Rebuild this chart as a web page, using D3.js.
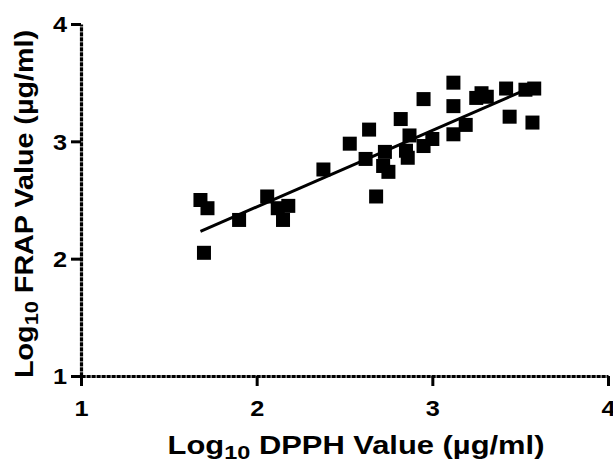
<!DOCTYPE html>
<html>
<head>
<meta charset="utf-8">
<script src="https://cdn.jsdelivr.net/npm/d3@7"></script>
<style>
  body { margin: 0; background: #fff; }
  svg { display: block; }
  text { font-family: Arial, "Liberation Sans", sans-serif; font-weight: bold; fill: #000; }
</style>
</head>
<body>
<svg id="chart"></svg>
<script>
var width = 613,
    height = 463;

// data (log10 values)
var dpph = [1.68, 1.72, 1.70, 1.90, 2.06, 2.12, 2.18, 2.15, 2.38, 2.53,
            2.64, 2.62, 2.73, 2.72, 2.75, 2.68, 2.82, 2.87, 2.85, 2.86,
            2.95, 2.95, 3.00, 3.12, 3.12, 3.12, 3.19, 3.25, 3.28, 3.31,
            3.42, 3.53, 3.58, 3.44, 3.57];
var frap = [2.50, 2.43, 2.05, 2.33, 2.53, 2.43, 2.45, 2.33, 2.76, 2.98,
            3.10, 2.85, 2.91, 2.79, 2.74, 2.53, 3.19, 3.05, 2.92, 2.86,
            3.36, 2.96, 3.02, 3.50, 3.30, 3.06, 3.14, 3.37, 3.41, 3.38,
            3.45, 3.44, 3.45, 3.21, 3.16];
var xTicks = [1, 2, 3, 4];
var yTicks = [1, 2, 3, 4];
// linear fit
var fitSlope = 0.652;
var fitIntercept = 1.137;

var points = dpph.map((d, i) => ({x: d, y: frap[i]}));

var svg = d3.select('#chart')
            .attr('width', width)
            .attr('height', height);

var x = d3.scaleLinear().domain([1, 4]).range([81, 608]);
var y = d3.scaleLinear().domain([1, 4]).range([376, 24]);

// axes
var xAxis = d3.axisBottom(x).tickValues(xTicks).tickSize(10).tickSizeOuter(0).tickFormat(d3.format('d'));
var yAxis = d3.axisLeft(y).tickValues(yTicks).tickSize(10).tickSizeOuter(0).tickFormat(d3.format('d'));

var gx = svg.append('g').attr('transform', 'translate(0,' + y(1) + ')').call(xAxis);
var gy = svg.append('g').attr('transform', 'translate(' + x(1) + ',0)').call(yAxis);

[gx, gy].forEach(g => {
  g.select('.domain').attr('stroke', '#000').attr('stroke-width', 3.2).attr('stroke-dasharray', '4.2,0.8');
  g.selectAll('.tick line').attr('stroke', '#000').attr('stroke-width', 3);
  g.selectAll('.tick text').style('font-size', '22px');
});

gx.selectAll('.tick text')
  .attr('y', null).attr('dy', null)
  .attr('text-anchor', 'middle')
  .attr('transform', 'translate(0,40) scale(1.15,1)');

gy.selectAll('.tick text')
  .attr('x', null).attr('dy', '0.36em')
  .attr('text-anchor', 'end')
  .attr('transform', 'translate(-14,0) scale(1.15,1)');

// fit line over the data range
var xMin = d3.min(dpph), xMax = d3.max(dpph);
svg.append('line')
   .attr('x1', x(xMin)).attr('y1', y(fitIntercept + fitSlope * xMin))
   .attr('x2', x(xMax)).attr('y2', y(fitIntercept + fitSlope * xMax))
   .attr('stroke', '#000')
   .attr('stroke-width', 3);

// squares
var size = 14;
svg.append('g')
   .selectAll('rect')
   .data(points)
   .enter()
   .append('rect')
     .attr('x', d => x(d.x) - size / 2)
     .attr('y', d => y(d.y) - size / 2)
     .attr('width', size)
     .attr('height', size)
     .attr('fill', '#000');

// axis titles, stretched to the widths seen in the picture
function title(cx, cy, rot, target, main, rest) {
  var g = svg.append('g');
  var t = g.append('text').attr('text-anchor', 'middle').style('font-size', '25px');
  t.append('tspan').text(main);
  t.append('tspan').attr('dy', 5).style('font-size', '19px').text('10');
  t.append('tspan').attr('dy', -5).text(rest);
  var w = t.node().getComputedTextLength();
  g.attr('transform', 'translate(' + cx + ',' + cy + ') rotate(' + rot + ') scale(' + (target / w) + ',1)');
}
title(356, 454, 0, 377, 'Log', ' DPPH Value (\u00b5g/ml)');
title(33, 204, -90, 348, 'Log', ' FRAP Value (\u00b5g/ml)');
</script>
</body>
</html>
